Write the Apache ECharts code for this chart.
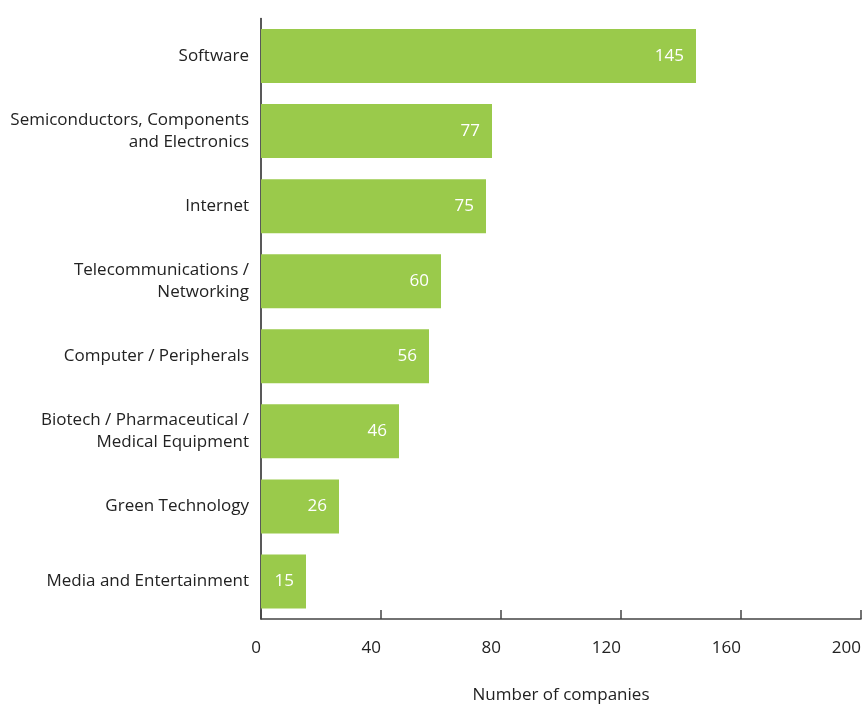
<!DOCTYPE html>
<html>
<head>
<meta charset="utf-8">
<script src="https://cdn.jsdelivr.net/npm/echarts@6/dist/echarts.min.js"></script>
<style>html,body{margin:0;padding:0;background:#fff;}#chart{width:862px;height:704px;}</style>
</head>
<body>
<div id="chart"></div>
<script>
const categories = [
  "Software",
  "Semiconductors, Components\nand Electronics",
  "Internet",
  "Telecommunications /\nNetworking",
  "Computer / Peripherals",
  "Biotech / Pharmaceutical /\nMedical Equipment",
  "Green Technology",
  "Media and Entertainment"
];
const values = [145, 77, 75, 60, 56, 46, 26, 15];
const xTicks = [0, 40, 80, 120, 160, 200];
const axisTitle = "Number of companies";

const chart = echarts.init(document.getElementById('chart'), null, {renderer: 'canvas'});
const font = '"Open Sans", "Noto Sans", sans-serif';
chart.setOption({
  animation: false,
  textStyle: {fontFamily: font},
  grid: {left: 261, right: 1, top: 18.5, bottom: 85, containLabel: false, outerBoundsMode: 'none'},
  xAxis: {
    type: 'value',
    min: xTicks[0],
    max: xTicks[xTicks.length - 1],
    interval: xTicks[1] - xTicks[0],
    name: axisTitle,
    nameLocation: 'middle',
    nameGap: 68,
    nameTextStyle: {fontSize: 17, color: '#222', fontFamily: font},
    axisLine: {show: true, lineStyle: {color: '#444', width: 1.5}},
    axisTick: {show: true, inside: true, length: 9, lineStyle: {color: '#444', width: 1.5}},
    axisLabel: {fontSize: 17, color: '#222', align: 'right', margin: 21, fontFamily: font},
    splitLine: {show: false}
  },
  yAxis: {
    type: 'category',
    data: categories,
    inverse: true,
    axisLine: {show: true, lineStyle: {color: '#222', width: 1.5}},
    axisTick: {show: false},
    axisLabel: {fontSize: 17, color: '#222', margin: 12, lineHeight: 22, align: 'right', padding: [4, 0, 0, 0], fontFamily: font},
    splitLine: {show: false}
  },
  series: [{
    type: 'bar',
    data: values,
    barWidth: 54,
    itemStyle: {color: '#9ACA4B'},
    label: {
      show: true,
      position: 'insideRight',
      distance: 12,
      color: '#fff',
      fontSize: 17,
      padding: [3, 0, 0, 0],
      fontFamily: font
    }
  }]
});
</script>
</body>
</html>
